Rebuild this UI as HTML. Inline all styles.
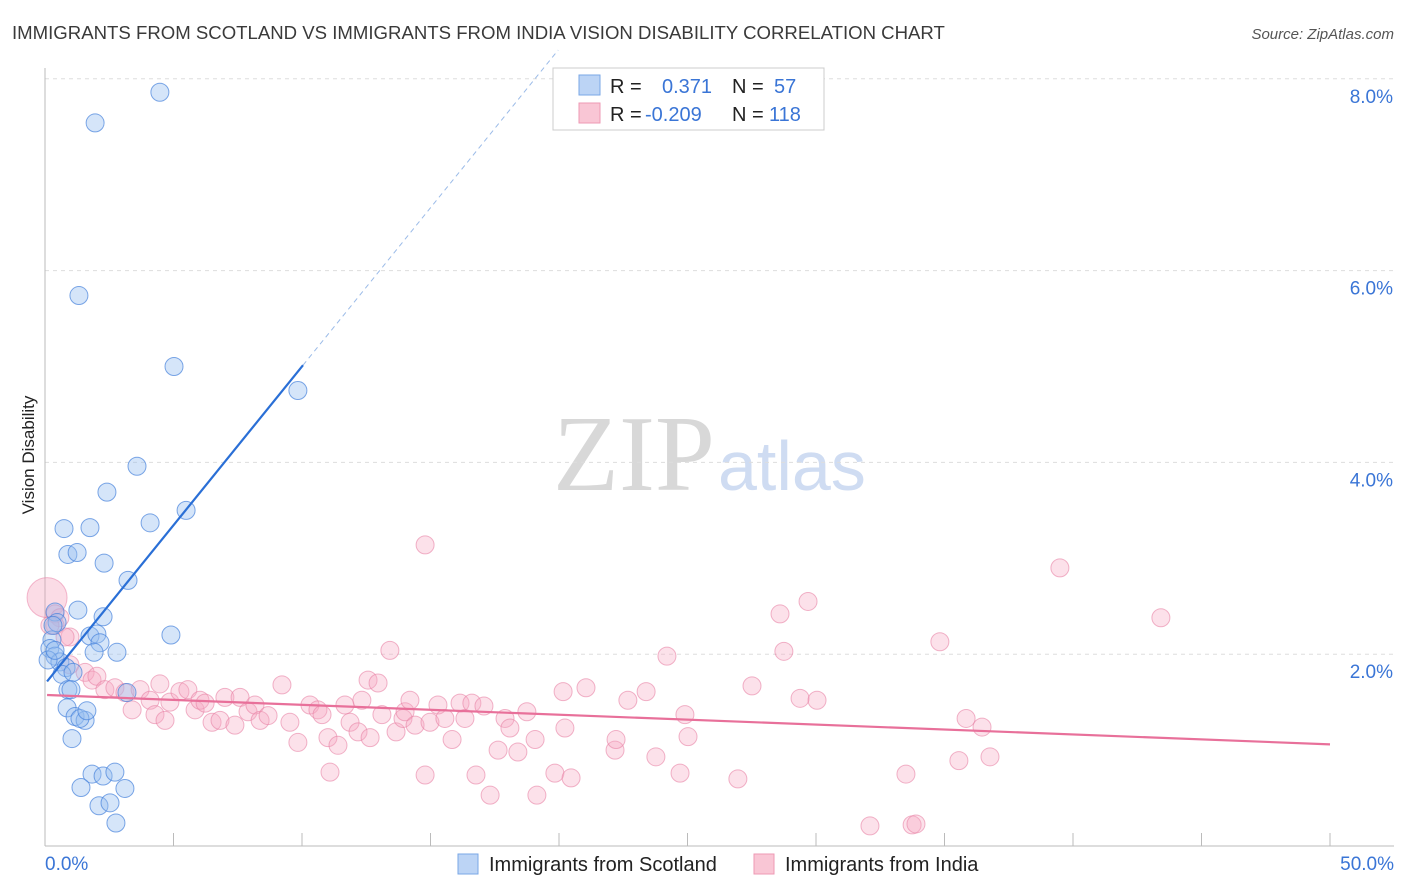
<!DOCTYPE html>
<html><head><meta charset="utf-8"><style>
body{margin:0;background:#fff;font-family:"Liberation Sans",sans-serif}
svg{display:block}
</style></head><body>
<svg id="chart" width="1406" height="892" xmlns="http://www.w3.org/2000/svg">
<text x="12" y="39" font-size="18.6" fill="#3a3a3a">IMMIGRANTS FROM SCOTLAND VS IMMIGRANTS FROM INDIA VISION DISABILITY CORRELATION CHART</text>
<text x="1394" y="39" font-size="15" font-style="italic" fill="#555" text-anchor="end">Source: ZipAtlas.com</text>
<g>
<text x="553" y="490" font-size="108" font-family="Liberation Serif,serif" fill="#d8d8d8">ZIP</text>
<text x="718" y="490" font-size="70" fill="#cfdcf2">atlas</text>
</g>
<g id="grid"></g>
<g id="axes"></g>
<g id="pts"></g>
<g id="trend"></g>
<g>
<rect x="553" y="68" width="271" height="62" fill="#fff" stroke="#ccc"/>
<rect x="579" y="75" width="21" height="20" fill="#bcd4f5" stroke="#7aa7e6"/>
<rect x="579" y="103" width="21" height="20" fill="#f9c6d5" stroke="#ee99b4"/>
<text font-size="20" fill="#222"><tspan x="610" y="93">R =</tspan><tspan x="732" y="93">N =</tspan><tspan x="610" y="121">R =</tspan><tspan x="732" y="121">N =</tspan></text>
<text font-size="20" fill="#3a75d6"><tspan x="662" y="93">0.371</tspan><tspan x="774" y="93">57</tspan><tspan x="645" y="121">-0.209</tspan><tspan x="769" y="121">118</tspan></text>
</g>
<text transform="translate(34,455) rotate(-90)" font-size="17" fill="#222" text-anchor="middle">Vision Disability</text>
<g>
<rect x="458" y="854" width="20" height="20" fill="#bcd4f5" stroke="#7aa7e6"/>
<text x="489" y="871" font-size="20" fill="#222">Immigrants from Scotland</text>
<rect x="754" y="854" width="20" height="20" fill="#f9c6d5" stroke="#ee99b4"/>
<text x="785" y="871" font-size="20" fill="#222">Immigrants from India</text>
</g>
</svg>
<script>
const yTicks=[2,4,6,8];
const yTickLabels=["2.0%","4.0%","6.0%","8.0%"];
const xTickLabels=["0.0%","50.0%"];
const blueX=[4.47,1.95,1.32,5.02,9.84,3.58,2.41,4.09,5.49,0.74,1.75,0.89,1.25,2.30,3.23,1.28,2.26,0.39,4.90,1.75,2.02,2.14,2.80,1.91,0.27,0.19,0.39,0.58,0.82,0.66,1.09,0.89,1.01,3.19,0.86,1.17,1.56,1.36,1.63,1.05,1.83,2.26,2.72,1.40,3.11,2.10,2.53,2.76,0.47,0.31,0.12,0.39];
const blueY=[7.86,7.54,5.74,5.00,4.75,3.96,3.69,3.37,3.50,3.31,3.32,3.04,3.06,2.95,2.77,2.46,2.39,2.44,2.20,2.19,2.21,2.12,2.02,2.02,2.15,2.06,1.98,1.92,1.86,1.79,1.81,1.63,1.63,1.60,1.44,1.35,1.31,1.33,1.41,1.12,0.75,0.73,0.77,0.61,0.60,0.42,0.45,0.24,2.33,2.30,1.94,2.04];
const pinkX=[0.39,0.58,0.97,0.78,0.39,0.97,1.56,1.83,2.02,2.33,
2.72,3.11,3.70,4.09,4.47,3.39,4.28,4.67,4.86,5.25,
5.56,5.84,6.03,6.23,6.50,6.81,7.00,7.39,7.59,7.90,
8.17,8.37,8.68,9.22,9.53,9.84,10.31,10.62,10.78,11.01,
11.09,11.40,11.67,11.87,12.18,12.33,12.57,12.96,12.65,13.11,
13.42,13.66,13.93,14.01,14.20,14.40,14.79,14.79,14.98,15.29,
15.56,15.84,16.15,16.34,16.61,16.77,17.08,17.32,17.63,17.90,
18.09,18.40,18.75,19.07,19.14,19.84,20.23,20.47,20.16,21.05,
22.18,22.22,22.68,23.39,23.77,24.20,24.71,24.90,25.02,26.96,
27.51,28.60,28.75,29.38,29.69,30.04,32.10,33.50,33.74,33.89,
34.82,35.56,35.84,36.46,36.77,39.49,43.42,0.19];
const pinkY=[2.42,2.38,2.18,2.18,2.30,1.89,1.81,1.73,1.77,1.63,
1.65,1.60,1.63,1.52,1.69,1.42,1.37,1.31,1.50,1.61,
1.63,1.42,1.52,1.49,1.29,1.31,1.55,1.26,1.55,1.40,
1.47,1.31,1.36,1.68,1.29,1.08,1.47,1.42,1.37,1.13,
0.77,1.05,1.47,1.29,1.19,1.52,1.73,1.70,1.13,1.37,
2.04,1.19,1.33,1.40,1.52,1.26,3.14,0.74,1.29,1.47,
1.33,1.11,1.49,1.33,1.49,0.74,1.46,0.53,1.00,1.33,
1.23,0.98,1.40,1.11,0.53,0.76,1.23,0.71,1.61,1.65,
1.00,1.11,1.52,1.61,0.93,1.98,0.76,1.37,1.14,0.70,
1.67,2.42,2.03,1.54,2.55,1.52,0.21,0.75,0.22,0.23,
2.13,0.89,1.33,1.24,0.93,2.90,2.38,2.30];
const bigPink=[0.08,2.59];
const blueTrend=[1.69,0.331];
const pinkTrend=[1.575,-0.0103];
const NS="http://www.w3.org/2000/svg";
const X0=45,X1=1330,Y0=846,YS=95.9;
const sx=v=>X0+v/50*(X1-X0);
const sy=v=>Y0-v*YS;
function mk(tag,attrs,parent){const e=document.createElementNS(NS,tag);for(const k in attrs)e.setAttribute(k,attrs[k]);parent.appendChild(e);return e;}
const grid=document.getElementById('grid'),axes=document.getElementById('axes'),pts=document.getElementById('pts'),trend=document.getElementById('trend');
yTicks.forEach((t,i)=>{
 const l=mk('line',{x1:45,x2:1394,y1:sy(t),y2:sy(t),stroke:'#ddd','stroke-dasharray':'4,4'},grid);
 
 
 const tx=mk('text',{x:1393,y:sy(t)+24,'font-size':19,fill:'#3a75d6','text-anchor':'end'},axes);
 tx.textContent=yTickLabels[i];
 
 
});
const al=mk('line',{x1:45,x2:45,y1:68,y2:846,stroke:'#bbb'},axes);


const bl=mk('line',{x1:45,x2:1394,y1:846,y2:846,stroke:'#bbb'},axes);


for(let i=0;i<=10;i++){
 const t=mk('line',{x1:sx(i*5),x2:sx(i*5),y1:833,y2:846,stroke:'#bbb'},axes);
 
 
}
[[0,'start',45],[1,'end',1394]].forEach(([i,a,x])=>{
 const t=mk('text',{x:x,y:870,'font-size':19,fill:'#3a75d6','text-anchor':a},axes);
 t.textContent=xTickLabels[i];
 
 
});
const bp=mk('circle',{cx:sx(bigPink[0]),cy:sy(bigPink[1]),r:20,fill:'rgba(244,154,183,0.35)',stroke:'rgba(232,120,160,0.5)'},pts);


for(let i=0;i<Math.min(pinkX.length,pinkY.length);i++){
 const c=mk('circle',{cx:sx(pinkX[i]),cy:sy(pinkY[i]),r:9,fill:'rgba(246,168,194,0.35)',stroke:'rgba(232,130,165,0.6)'},pts);
 
 
}
for(let i=0;i<Math.min(blueX.length,blueY.length);i++){
 const c=mk('circle',{cx:sx(blueX[i]),cy:sy(blueY[i]),r:9,fill:'rgba(150,190,240,0.4)',stroke:'rgba(70,130,220,0.7)'},pts);
 
 
}
const bEnd=10.04;
const f=x=>blueTrend[0]+blueTrend[1]*x;
const xTop=(8.3-blueTrend[0])/blueTrend[1];
const t1=mk('line',{x1:sx(0.08),y1:sy(f(0.08)),x2:sx(bEnd),y2:sy(f(bEnd)),stroke:'#2a6fd6','stroke-width':2.2},trend);


const t2=mk('line',{x1:sx(bEnd),y1:sy(f(bEnd)),x2:sx(xTop),y2:sy(8.3),stroke:'#9bbbe8','stroke-width':1,'stroke-dasharray':'5,4'},trend);


const g=x=>pinkTrend[0]+pinkTrend[1]*x;
const t3=mk('line',{x1:sx(0.08),y1:sy(g(0.08)),x2:sx(50),y2:sy(g(50)),stroke:'#e8709a','stroke-width':2.2},trend);


</script>
</body></html>
